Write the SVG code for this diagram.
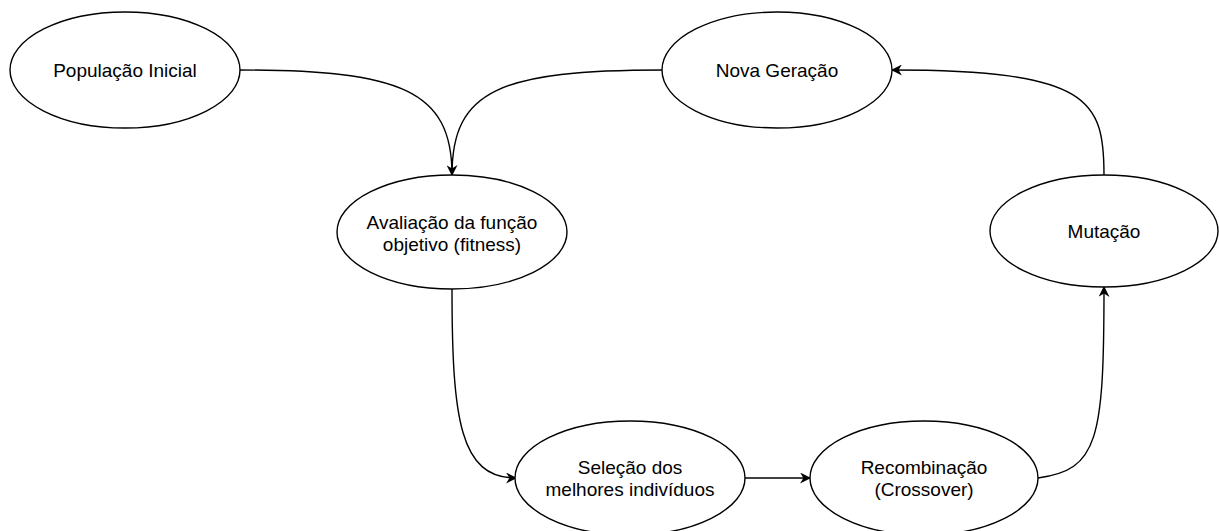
<svg xmlns="http://www.w3.org/2000/svg" width="1219" height="531" viewBox="0 0 1219 531">
<style>
.n ellipse{fill:#fff;stroke:#000;stroke-width:1.4}
.n text{font-family:"Liberation Sans",Arial,sans-serif;font-size:19px;fill:#000;text-anchor:middle}
.c path{fill:none;stroke:#000;stroke-width:1.4;marker-end:url(#ah)}
</style>
<defs>
<marker id="ah" viewBox="0 0 10 10" refX="9" refY="5" markerWidth="11" markerHeight="11" markerUnits="userSpaceOnUse" orient="auto">
<path d="M0,0 L10,5 L0,10 L3,5 Z" fill="#000"/>
</marker>
</defs>
<rect width="1219" height="531" fill="#fff"/>
<g class="c" id="connectors">
<path d="M240,70 C400,70 452,90 452,175"/>
<path d="M663,70 C500,70 452,90 452,175" style="marker-end:none"/>
<path d="M452,288 C452,420 460,478 516,478"/>
<path d="M745,478 L810,478"/>
<path d="M1038,478 C1098,470 1104,440 1104,287"/>
<path d="M1104,175 C1104,100 1090,70 892,70"/>
</g>
<g class="n" id="pop"><ellipse cx="125" cy="70" rx="115" ry="58"/><text x="125" y="77">População Inicial</text></g>
<g class="n" id="nova"><ellipse cx="777" cy="70" rx="115" ry="58"/><text x="777" y="77">Nova Geração</text></g>
<g class="n" id="aval"><ellipse cx="452" cy="232" rx="115" ry="57"/><text x="452" y="229">Avaliação da função</text><text x="452" y="251">objetivo (fitness)</text></g>
<g class="n" id="mut"><ellipse cx="1104" cy="231" rx="114" ry="56"/><text x="1104" y="238">Mutação</text></g>
<g class="n" id="sel"><ellipse cx="630" cy="478" rx="115" ry="57"/><text x="630" y="474">Seleção dos</text><text x="630" y="496">melhores indivíduos</text></g>
<g class="n" id="rec"><ellipse cx="924" cy="478" rx="114" ry="57"/><text x="924" y="474">Recombinação</text><text x="924" y="496">(Crossover)</text></g>
</svg>
